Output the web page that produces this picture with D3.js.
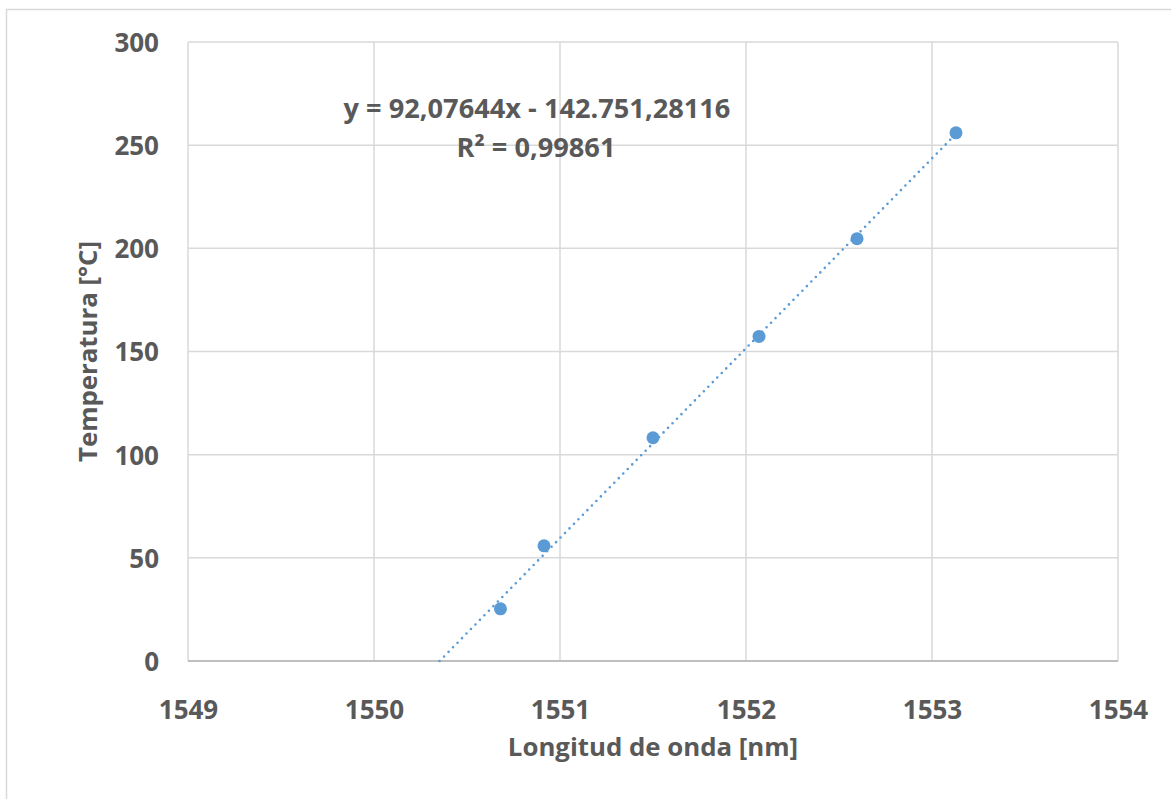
<!DOCTYPE html>
<html><head><meta charset="utf-8">
<script src="https://cdn.jsdelivr.net/npm/d3@7"></script>
<style>
html,body{margin:0;padding:0;background:#fff;}
svg text{font-family:"Open Sans",sans-serif;font-weight:700;fill:#595959;}
</style></head>
<body>
<svg id="c" width="1171" height="799"></svg>
<script>
const wavelength = [1550.680, 1550.914, 1551.500, 1552.070, 1552.597, 1553.129];
const temperature = [25.3, 55.8, 108.2, 157.3, 204.7, 256.0];
const xTicks = [1549, 1550, 1551, 1552, 1553, 1554];
const yTicks = [0, 50, 100, 150, 200, 250, 300];
const xTitle = "Longitud de onda [nm]";
const yTitle = "Temperatura [°C]";
const eqLine1 = "y = 92,07644x - 142.751,28116";
const eqLine2 = "R² = 0,99861";

const svg = d3.select("#c");
const L = 188, R = 1118, T = 42, B = 661;
const x = d3.scaleLinear().domain([1549, 1554]).range([L, R]);
const y = d3.scaleLinear().domain([0, 300]).range([B, T]);

// outer chart border
svg.append("rect").attr("x", 6.5).attr("y", 9.5).attr("width", 1200).attr("height", 900)
  .attr("fill", "none").attr("stroke", "#d9d9d9").attr("stroke-width", 1.5);

// gridlines
const grid = svg.append("g");
grid.selectAll(".hy").data(yTicks.filter(d => d > 0)).enter().append("line")
  .attr("x1", L).attr("x2", R).attr("y1", d => y(d)).attr("y2", d => y(d))
  .attr("stroke", "#d9d9d9").attr("stroke-width", 1.5);
grid.selectAll(".vx").data(xTicks).enter().append("line")
  .attr("y1", T).attr("y2", B).attr("x1", d => x(d)).attr("x2", d => x(d))
  .attr("stroke", "#d9d9d9").attr("stroke-width", 1.5);
// x axis line
svg.append("line").attr("x1", L).attr("x2", R).attr("y1", y(0)).attr("y2", y(0))
  .attr("stroke", "#bfbfbf").attr("stroke-width", 1.8);

// axes labels via d3 axes
const xa = svg.append("g").attr("transform", `translate(0,${B})`)
  .call(d3.axisBottom(x).tickValues(xTicks).tickFormat(d3.format("d")).tickSize(0).tickPadding(40));
xa.select(".domain").remove();
xa.selectAll("text").attr("font-size", 26).attr("font-family", null).attr("fill", null);
const ya = svg.append("g").attr("transform", `translate(${L},0)`)
  .call(d3.axisLeft(y).tickValues(yTicks).tickFormat(d3.format("d")).tickSize(0).tickPadding(29));
ya.select(".domain").remove();
ya.selectAll("text").attr("font-size", 26).attr("font-family", null).attr("fill", null).attr("dy", "0.36em");

// axis titles
svg.append("text").attr("x", (L + R) / 2).attr("y", 756).attr("text-anchor", "middle")
  .attr("font-size", 25.8).text(xTitle);
svg.append("text").attr("transform", `translate(97,${(T + B) / 2}) rotate(-90)`)
  .attr("text-anchor", "middle").attr("font-size", 25.8).text(yTitle);

// linear regression trendline (computed from data)
const n = wavelength.length;
const mx = d3.mean(wavelength), my = d3.mean(temperature);
let sxy = 0, sxx = 0;
for (let i = 0; i < n; i++) { sxy += (wavelength[i] - mx) * (temperature[i] - my); sxx += (wavelength[i] - mx) ** 2; }
const slope = sxy / sxx, icpt = my - slope * mx;
const x0 = -icpt / slope, x1 = d3.max(wavelength);
svg.append("line")
  .attr("x1", x(x0)).attr("y1", y(slope * x0 + icpt))
  .attr("x2", x(x1)).attr("y2", y(slope * x1 + icpt))
  .attr("stroke", "#5b9bd5").attr("stroke-width", 2.6)
  .attr("stroke-linecap", "round").attr("stroke-dasharray", "0,6.4");

// points
svg.selectAll(".pt").data(wavelength).enter().append("circle")
  .attr("cx", d => x(d)).attr("cy", (d, i) => y(temperature[i])).attr("r", 6.5)
  .attr("fill", "#5b9bd5");

// equation
svg.append("text").attr("x", 537).attr("y", 118).attr("text-anchor", "middle")
  .attr("font-size", 27.2).text(eqLine1);
svg.append("text").attr("x", 536).attr("y", 157).attr("text-anchor", "middle")
  .attr("font-size", 27.2).text(eqLine2);
</script>
</body></html>
